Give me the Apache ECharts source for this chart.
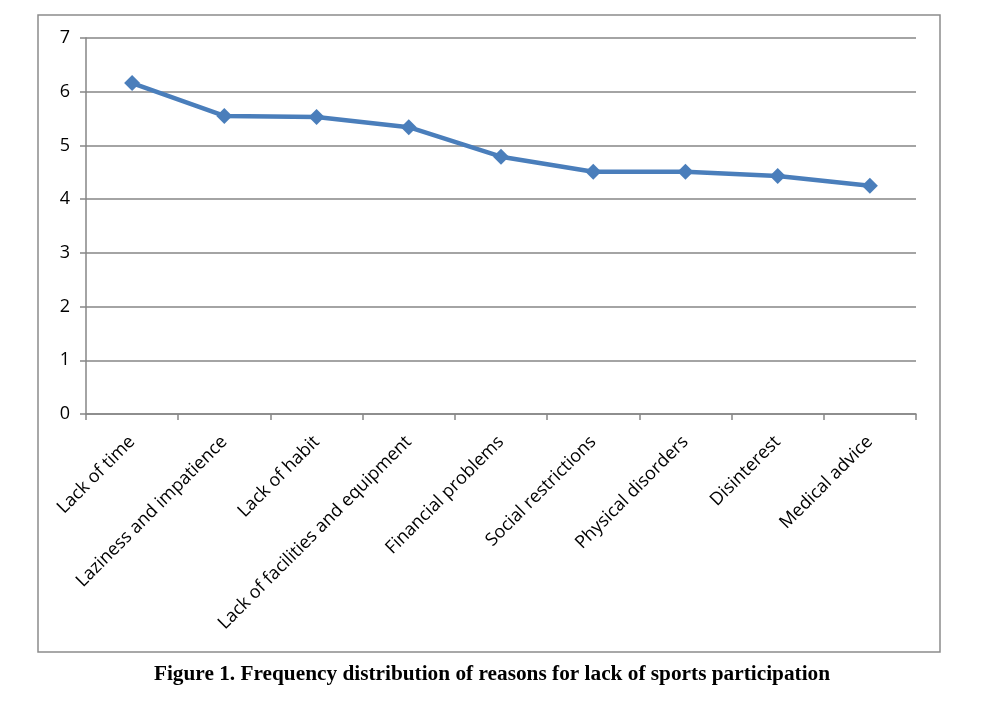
<!DOCTYPE html>
<html><head><meta charset="utf-8">
<script src="https://cdn.jsdelivr.net/npm/echarts@6/dist/echarts.min.js"></script>
<style>html,body{margin:0;padding:0;background:#fff}#c{width:1006px;height:704px}</style>
</head><body><div id="c"></div>
<script>
const categories = ["Lack of time","Laziness and impatience","Lack of habit","Lack of facilities and equipment","Financial problems","Social restrictions","Physical disorders","Disinterest","Medical advice"];
const values = [6.16, 5.55, 5.53, 5.34, 4.79, 4.51, 4.51, 4.43, 4.25];
const yTicks = [0,1,2,3,4,5,6,7];
const titleText = "Figure 1. Frequency distribution of reasons for lack of sports participation";

const chart = echarts.init(document.getElementById('c'));
chart.setOption({
  animation: false,
  backgroundColor: '#fff',
  title: {
    text: titleText, left: 487, top: 659, textAlign: 'center',
    textStyle: {fontFamily: 'Liberation Serif', fontWeight: 'bold', fontSize: 21.3, color: '#000'}
  },
  graphic: [{
    type: 'rect', shape: {x: 38, y: 15, width: 902, height: 637},
    style: {fill: 'none', stroke: '#8c8c8c', lineWidth: 1.5}, silent: true
  }],
  grid: {left: 86, right: 90, top: 38, bottom: 290},
  xAxis: {
    type: 'category', data: categories, boundaryGap: true,
    axisLine: {lineStyle: {color: '#868686', width: 1.5}},
    axisTick: {show: true, length: 6, lineStyle: {color: '#868686', width: 1.5}},
    axisLabel: {rotate: 45, interval: 0, margin: 25, fontFamily: 'Open Sans', fontSize: 18, color: '#000'}
  },
  yAxis: {
    type: 'value', min: yTicks[0], max: yTicks[yTicks.length-1], interval: 1,
    axisLine: {show: true, lineStyle: {color: '#868686', width: 1.5}},
    axisTick: {show: true, length: 6, lineStyle: {color: '#868686', width: 1.5}},
    splitLine: {lineStyle: {color: '#868686', width: 1.5}},
    axisLabel: {margin: 16, fontFamily: 'Open Sans', fontSize: 18, color: '#000'}
  },
  series: [{
    type: 'line', data: values, symbol: 'diamond', symbolSize: 16,
    lineStyle: {color: '#4a7ebb', width: 4.5},
    itemStyle: {color: '#4a7ebb'}
  }]
});
</script></body></html>
